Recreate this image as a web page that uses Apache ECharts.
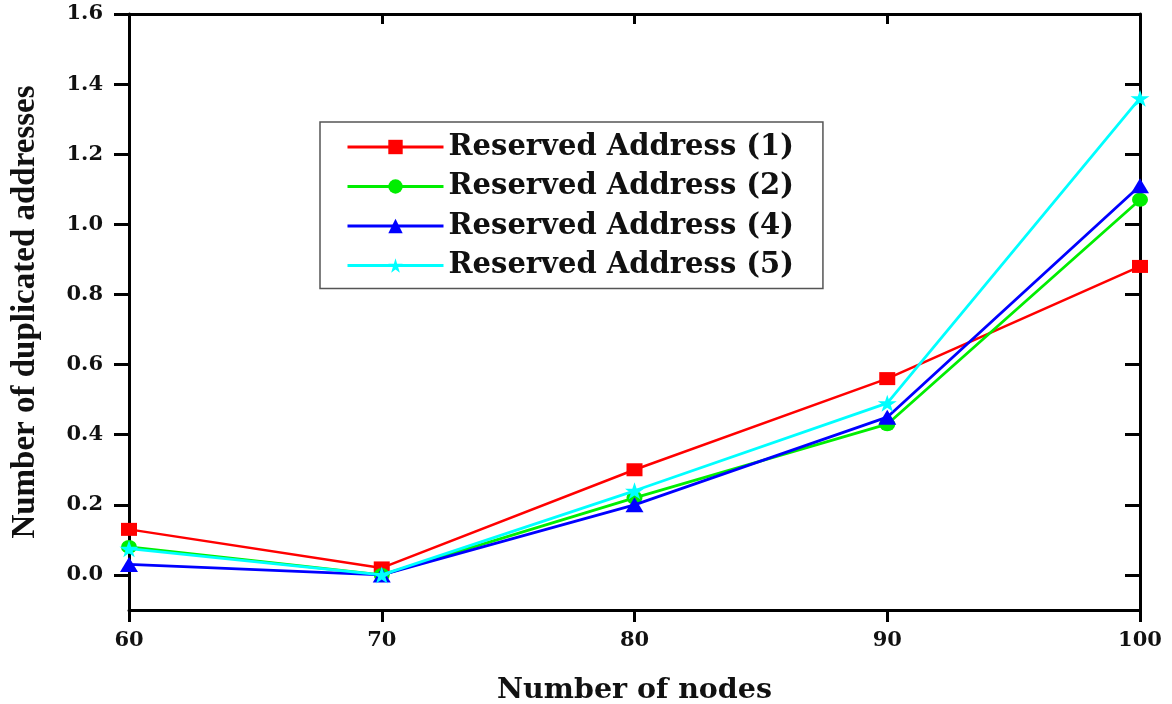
<!DOCTYPE html>
<html>
<head>
<meta charset="utf-8">
<script src="https://cdn.jsdelivr.net/npm/echarts@6/dist/echarts.min.js"></script>
<style>
html,body{margin:0;padding:0;background:#fff;}
#chart{width:1172px;height:704px;}
</style>
</head>
<body>
<div id="chart"></div>
<script>
const nodes = [60, 70, 80, 90, 100];
const reserved1 = [0.13, 0.02, 0.30, 0.56, 0.88];
const reserved2 = [0.08, 0.00, 0.22, 0.43, 1.07];
const reserved4 = [0.03, 0.00, 0.20, 0.45, 1.11];
const reserved5 = [0.075, 0.00, 0.24, 0.49, 1.36];
const seriesNames = ['Reserved Address (1)', 'Reserved Address (2)', 'Reserved Address (4)', 'Reserved Address (5)'];
const yTicks = [0, 0.2, 0.4, 0.6, 0.8, 1.0, 1.2, 1.4, 1.6];
const xTitle = 'Number of nodes';
const yTitle = 'Number of duplicated addresses';

const STAR = 'path://M50,0 L61,35 L98,35 L68,57 L79,91 L50,70 L21,91 L32,57 L2,35 L39,35 Z';
const FONT = 'DejaVu Serif';
const pairs = arr => nodes.map((x, i) => [x, arr[i]]);

const styles = [
  {color: '#ff0000', symbol: 'rect', size: [16, 13], lw: 2.5},
  {color: '#00ee00', symbol: 'circle', size: [16, 14], lw: 2.8},
  {color: '#0000ff', symbol: 'triangle', size: [18, 15], lw: 2.8},
  {color: '#00ffff', symbol: STAR, size: [19, 17], lw: 2.8}
];
const dataSets = [reserved1, reserved2, reserved4, reserved5];

const chart = echarts.init(document.getElementById('chart'), null, {renderer: 'canvas'});
chart.setOption({
  animation: false,
  backgroundColor: '#fff',
  grid: {left: 129, right: 32, top: 14, bottom: 94, containLabel: false, outerBoundsMode: 'none'},
  legend: {
    orient: 'vertical',
    left: 320, top: 122,
    padding: [10, 29, 8, 26],
    itemGap: 9.5,
    itemWidth: 96, itemHeight: 18,
    borderColor: '#555', borderWidth: 1.5,
    backgroundColor: '#fff',
    lineStyle: {width: 3},
    textStyle: {fontFamily: FONT, fontWeight: 'bold', fontSize: 29, color: '#111', lineHeight: 30},
    data: seriesNames
  },
  xAxis: [{
    type: 'value', min: 60, max: 100, interval: 10, position: 'bottom',
    name: xTitle, nameLocation: 'middle', nameGap: 66,
    nameTextStyle: {fontFamily: FONT, fontWeight: 'bold', fontSize: 28.5, color: '#111'},
    axisLine: {show: true, onZero: false, lineStyle: {color: '#000', width: 3}},
    axisTick: {show: true, inside: false, length: 12, lineStyle: {color: '#000', width: 3}},
    axisLabel: {margin: 20, fontFamily: FONT, fontWeight: 'bold', fontSize: 21, color: '#111'},
    splitLine: {show: false}
  }, {
    type: 'value', min: 60, max: 100, interval: 10, position: 'top',
    axisLine: {show: true, onZero: false, lineStyle: {color: '#000', width: 3}},
    axisTick: {show: true, inside: true, length: 10, lineStyle: {color: '#000', width: 3}},
    axisLabel: {show: false},
    splitLine: {show: false}
  }],
  yAxis: [{
    type: 'value', min: -0.1, max: 1.6, position: 'left',
    name: yTitle, nameLocation: 'middle', nameGap: 87, nameRotate: 90,
    nameTextStyle: {fontFamily: 'Liberation Serif', fontWeight: 'bold', fontSize: 33, color: '#111'},
    axisLine: {show: true, onZero: false, lineStyle: {color: '#000', width: 3}},
    axisTick: {show: true, inside: false, length: 15, customValues: yTicks, lineStyle: {color: '#000', width: 3}},
    axisLabel: {margin: 26, customValues: yTicks, formatter: v => v.toFixed(1),
      fontFamily: FONT, fontWeight: 'bold', fontSize: 21, color: '#111'},
    splitLine: {show: false}
  }, {
    type: 'value', min: -0.1, max: 1.6, position: 'right',
    axisLine: {show: true, onZero: false, lineStyle: {color: '#000', width: 3}},
    axisTick: {show: true, inside: true, length: 15, customValues: yTicks, lineStyle: {color: '#000', width: 3}},
    axisLabel: {show: false},
    splitLine: {show: false}
  }],
  series: dataSets.map((arr, i) => ({
    name: seriesNames[i],
    type: 'line',
    xAxisIndex: 0, yAxisIndex: 0,
    data: pairs(arr),
    symbol: styles[i].symbol,
    symbolSize: styles[i].size,
    showAllSymbol: true,
    clip: false,
    z: 2 + i,
    lineStyle: {color: styles[i].color, width: styles[i].lw},
    itemStyle: {color: styles[i].color, borderWidth: 0}
  }))
});
</script>
</body>
</html>
